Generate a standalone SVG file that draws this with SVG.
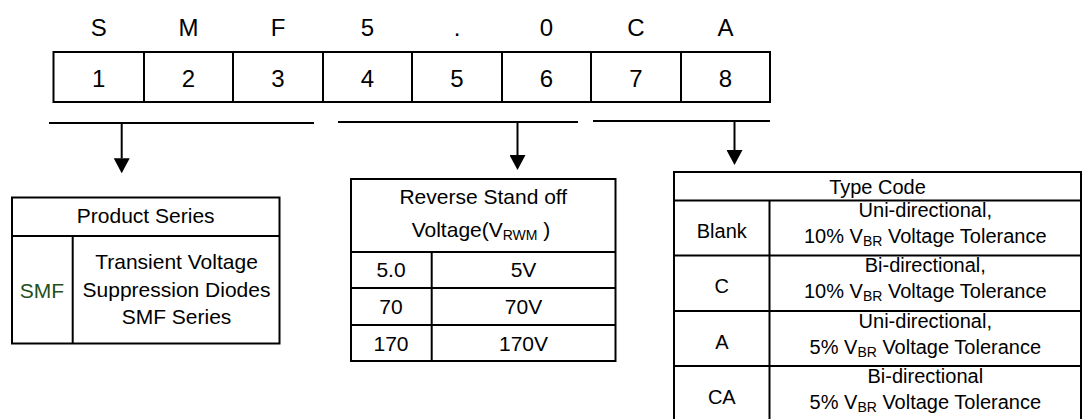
<svg xmlns="http://www.w3.org/2000/svg" width="1084" height="419" viewBox="0 0 1084 419">
<style>
text{font-family:"Liberation Sans",Arial,sans-serif;fill:#000;text-anchor:middle}
.big{font-size:24px}
.t21{font-size:21px}
.t20{font-size:20px}
.sub{font-size:14px}
.box{fill:#fff;stroke:#000;stroke-width:2}
.ln{stroke:#000;stroke-width:2;fill:none}
.green{fill:#1e5020}
</style>
<defs>
<marker id="arr" markerUnits="userSpaceOnUse" markerWidth="15" markerHeight="16" viewBox="0 0 15 16" refX="0" refY="8" orient="auto">
<path d="M0,0 L15,8 L0,16 Z" fill="#000"/>
</marker>
</defs>
<rect width="1084" height="419" fill="#fff"/>

<g id="code">
<text class="big" x="98.8" y="36">S</text>
<text class="big" x="188.5" y="36">M</text>
<text class="big" x="278" y="36">F</text>
<text class="big" x="367.5" y="36">5</text>
<text class="big" x="457" y="36">.</text>
<text class="big" x="546.5" y="36">0</text>
<text class="big" x="636" y="36">C</text>
<text class="big" x="725.5" y="36">A</text>
<rect class="box" x="53.5" y="52" width="716.5" height="50"/>
<path class="ln" d="M144,52V102M233,52V102M323,52V102M412,52V102M502,52V102M591,52V102M681,52V102"/>
<text class="big" x="98.8" y="87">1</text>
<text class="big" x="188.5" y="87">2</text>
<text class="big" x="278" y="87">3</text>
<text class="big" x="367.5" y="87">4</text>
<text class="big" x="457" y="87">5</text>
<text class="big" x="546.5" y="87">6</text>
<text class="big" x="636" y="87">7</text>
<text class="big" x="725.5" y="87">8</text>
</g>

<g id="connectors">
<path class="ln" d="M49,123H314"/>
<path class="ln" d="M121.7,123V158.3" marker-end="url(#arr)"/>
<path class="ln" d="M338,122H578"/>
<path class="ln" d="M517.5,122V155" marker-end="url(#arr)"/>
<path class="ln" d="M593,121H770"/>
<path class="ln" d="M734.5,121V150" marker-end="url(#arr)"/>
</g>

<g id="product-series">
<rect class="box" x="12" y="197.5" width="267.5" height="146"/>
<path class="ln" d="M12,236H279.5M72.7,236V343.5"/>
<text class="t21" x="145.7" y="223">Product Series</text>
<text class="t21 green" x="42" y="297.5">SMF</text>
<text class="t21" x="176.5" y="269">Transient Voltage</text>
<text class="t21" x="176.5" y="296.5">Suppression Diodes</text>
<text class="t21" x="176.5" y="323.5">SMF Series</text>
</g>

<g id="reverse-voltage">
<rect class="box" x="351" y="179" width="264.5" height="182"/>
<path class="ln" d="M351,252H615.5M351,288H615.5M351,325H615.5M431.7,252V361"/>
<text class="t21" x="483.3" y="204.3">Reverse Stand off</text>
<text class="t21" x="481" y="236.7">Voltage(V<tspan class="sub" dy="3">RWM</tspan><tspan dy="-3"> )</tspan></text>
<text class="t21" x="391" y="276.7">5.0</text>
<text class="t21" x="523.5" y="276.7">5V</text>
<text class="t21" x="391" y="314">70</text>
<text class="t21" x="523.5" y="314">70V</text>
<text class="t21" x="391" y="350.7">170</text>
<text class="t21" x="523.5" y="350.7">170V</text>
</g>

<g id="type-code">
<rect class="box" x="674" y="172" width="407" height="250"/>
<path class="ln" d="M674,200.5H1081M674,255.5H1081M674,311H1081M674,366H1081M769.5,200.5V422"/>
<text class="t20" x="877.5" y="194">Type Code</text>
<text class="t20" x="721.8" y="237.5">Blank</text>
<text class="t20" x="925.3" y="217">Uni-directional,</text>
<text class="t20" x="925.3" y="243">10% V<tspan class="sub" dy="3">BR</tspan><tspan dy="-3"> Voltage Tolerance</tspan></text>
<text class="t20" x="721.8" y="293">C</text>
<text class="t20" x="925.3" y="272">Bi-directional,</text>
<text class="t20" x="925.3" y="298">10% V<tspan class="sub" dy="3">BR</tspan><tspan dy="-3"> Voltage Tolerance</tspan></text>
<text class="t20" x="721.8" y="348.5">A</text>
<text class="t20" x="925.3" y="327.5">Uni-directional,</text>
<text class="t20" x="925.3" y="353.5">5% V<tspan class="sub" dy="3">BR</tspan><tspan dy="-3"> Voltage Tolerance</tspan></text>
<text class="t20" x="721.8" y="404">CA</text>
<text class="t20" x="925.3" y="383">Bi-directional</text>
<text class="t20" x="925.3" y="409">5% V<tspan class="sub" dy="3">BR</tspan><tspan dy="-3"> Voltage Tolerance</tspan></text>
</g>
</svg>
